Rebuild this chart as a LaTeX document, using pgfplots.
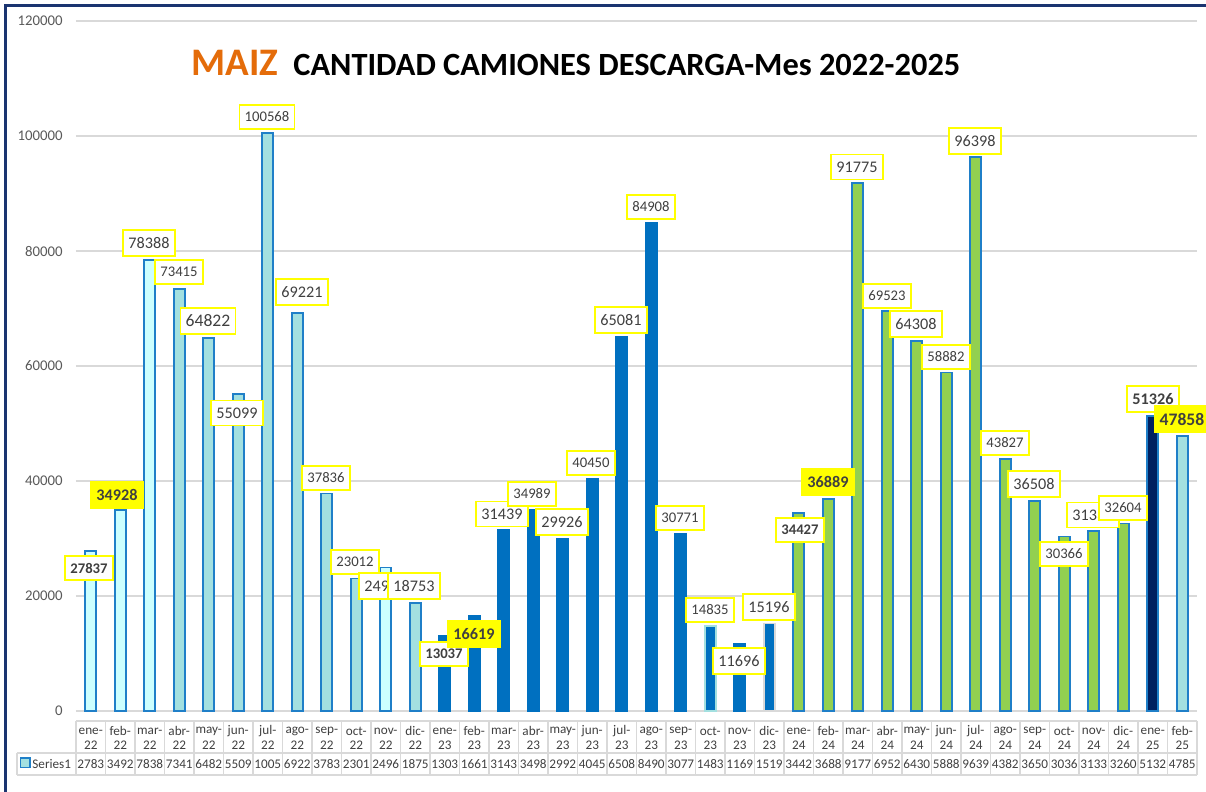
\documentclass[border=0pt]{standalone}
\usepackage{fontspec}
\setmainfont{Carlito}
\usepackage{pgfplots}
\pgfplotsset{compat=1.18}
\definecolor{cLC}{HTML}{CCFFFF}
\definecolor{cTeal}{HTML}{A3E0E0}
\definecolor{cBlue}{HTML}{0070C0}
\definecolor{cGreen}{HTML}{92D050}
\definecolor{cNavy}{HTML}{002060}
\definecolor{cOut}{HTML}{1F7FC8}
\definecolor{cFrame}{HTML}{1A3470}
\definecolor{cGrid}{HTML}{D9D9D9}
\definecolor{cTxt}{HTML}{404040}
\definecolor{cTick}{HTML}{595959}
\definecolor{cOrange}{HTML}{E46C0A}
\definecolor{cYel}{HTML}{FFFF00}
\begin{document}
\begin{tikzpicture}
\fill[white] (0pt,0pt) rectangle (603pt,-396pt);
\useasboundingbox (0pt,0pt) rectangle (603pt,-396pt);
\begin{axis}[
  at={(38pt,-355.5pt)}, anchor=south west,
  scale only axis, width=560.5pt, height=345pt,
  xmin=-0.5, xmax=37.5, ymin=0, ymax=120000,
  axis line style={draw=none},
  xtick=\empty,
  ytick={0,20000,40000,60000,80000,100000,120000},
  major tick length=0pt,
  ymajorgrids, grid style={draw=cGrid, line width=0.7pt},
  scaled y ticks=false,
  /pgf/number format/fixed,
  /pgf/number format/1000 sep={},
  /pgf/number format/assume math mode=true,
  y tick label style={font=\fontsize{7.4}{8}\selectfont, text=cTick, inner sep=0pt, xshift=-6.5pt, anchor=east},
  every axis plot/.append style={ybar, bar shift=0pt, bar width=5.5pt, line width=0.8pt},
]
\addplot[fill=cLC, draw=cOut] coordinates {(0,27837)(1,34928)(2,78388)(10,24960)};
\addplot[fill=cTeal, draw=cOut] coordinates {(3,73415)(4,64822)(5,55099)(6,100568)(7,69221)(8,37836)(9,23012)(11,18753)(37,47858)};
\addplot[fill=cBlue, draw=cBlue] coordinates {(12,13037)(13,16619)(14,31439)(15,34989)(16,29926)(17,40450)(18,65081)(19,84908)(20,30771)(22,11696)};
\addplot[fill=cBlue, draw=cTeal] coordinates {(21,14835)};
\addplot[fill=cBlue, draw=cGrid] coordinates {(23,15196)};
\addplot[fill=cGreen, draw=cOut] coordinates {(24,34427)(25,36889)(26,91775)(27,69523)(28,64308)(29,58882)(30,96398)(31,43827)(32,36508)(33,30366)(34,31335)(35,32604)};
\addplot[fill=cNavy, draw=cOut] coordinates {(36,51326)};
\end{axis}
\begin{scope}[x=0.5pt,y=-0.5pt,
  lb/.style={draw=cYel, line width=0.9pt, fill=white, text=cTxt, inner xsep=2.6pt, inner ysep=3.6pt, font=\fontsize{8.1}{9}\selectfont},
  sm/.style={font=\fontsize{7.35}{8}\selectfont},
  md/.style={font=\fontsize{8.1}{9}\selectfont},
  lg/.style={font=\fontsize{8.8}{10}\selectfont},
  smb/.style={font=\fontsize{7.35}{8}\selectfont\bfseries},
  mdb/.style={font=\fontsize{8.1}{9}\selectfont\bfseries},
  lgb/.style={font=\fontsize{8.8}{10}\selectfont\bfseries},
  yf/.style={fill=cYel}]
% frame
\draw[cFrame, line width=1.5pt] (5.5,800) -- (5.5,5.5) -- (1215,5.5);
% title
\node[anchor=base west, inner sep=0pt, text=cOrange, font=\fontsize{19.5}{22}\selectfont\bfseries] at (191,76) {MAIZ};
\node[anchor=base west, inner sep=0pt, text=black, font=\fontsize{16.2}{19}\selectfont\bfseries] at (293,76) {CANTIDAD CAMIONES DESCARGA-Mes 2022-2025};
% data labels
\newcommand\Lb[4]{\node[lb,#4] at (#1,#2) {#3};}
\Lb{89}{568}{27837}{smb}
\Lb{117}{495}{34928}{mdb,yf}
\Lb{149}{243}{78388}{md}
\Lb{179}{272}{73415}{sm}
\Lb{208}{321}{64822}{lg}
\Lb{237}{413}{55099}{md}
\Lb{267}{117}{100568}{sm}
\Lb{302}{292}{69221}{md}
\Lb{326}{478}{37836}{sm}
\Lb{355}{562}{23012}{sm}
\Lb{385}{586}{24960}{md}
\Lb{414}{586}{18753}{md}
\Lb{444}{654}{13037}{smb}
\Lb{474}{634}{16619}{mdb,yf}
\Lb{502}{514}{31439}{md}
\Lb{532}{494}{34989}{sm}
\Lb{562}{522}{29926}{md}
\Lb{591}{463}{40450}{sm}
\Lb{621}{320}{65081}{md}
\Lb{651}{207}{84908}{sm}
\Lb{680}{518}{30771}{sm}
\Lb{710}{610}{14835}{sm}
\Lb{739}{661}{11696}{md}
\Lb{769}{607}{15196}{md}
\Lb{800}{530}{34427}{smb}
\Lb{828}{482}{36889}{mdb,yf}
\Lb{857}{167}{91775}{md}
\Lb{887}{296}{69523}{sm}
\Lb{916}{324}{64308}{md}
\Lb{946}{357}{58882}{sm}
\Lb{975}{141}{96398}{md}
\Lb{1005}{443}{43827}{sm}
\Lb{1034}{484}{36508}{md}
\Lb{1064}{554}{30366}{sm}
\Lb{1093}{515}{31335}{md}
\Lb{1123}{508}{32604}{sm}
\Lb{1153}{399}{51326}{mdb}
\Lb{1182}{419}{47858}{lgb,yf}
% data table
\foreach \i in {0,...,38} { \draw[cGrid, line width=0.6pt] ({76+\i*29.5},721) -- ({76+\i*29.5},775); }
\draw[cGrid, line width=0.6pt] (76,721) -- (1197,721);
\draw[cGrid, line width=0.6pt] (17,753) -- (1197,753);
\draw[cGrid, line width=0.6pt] (17,775) -- (1197,775);
\draw[cGrid, line width=0.6pt] (17,753) -- (17,775);
\foreach \m/\yr [count=\i from 0] in {ene/22,feb/22,mar/22,abr/22,may/22,jun/22,jul/22,ago/22,sep/22,oct/22,nov/22,dic/22,ene/23,feb/23,mar/23,abr/23,may/23,jun/23,jul/23,ago/23,sep/23,oct/23,nov/23,dic/23,ene/24,feb/24,mar/24,abr/24,may/24,jun/24,jul/24,ago/24,sep/24,oct/24,nov/24,dic/24,ene/25,feb/25} {
  \node[text=cTxt, inner sep=0pt, font=\fontsize{6.6}{7.5}\selectfont] at ({90.75+\i*29.5},731) {\m-};
  \node[text=cTxt, inner sep=0pt, font=\fontsize{6.6}{7.5}\selectfont] at ({90.75+\i*29.5},745) {\yr};
}
\foreach \v [count=\i from 0] in {2783,3492,7838,7341,6482,5509,1005,6922,3783,2301,2496,1875,1303,1661,3143,3498,2992,4045,6508,8490,3077,1483,1169,1519,3442,3688,9177,6952,6430,5888,9639,4382,3650,3036,3133,3260,5132,4785} {
  \node[text=cTxt, inner sep=0pt, font=\fontsize{6.6}{7.5}\selectfont] at ({90.75+\i*29.5},764) {\v};
}
\draw[cOut, fill=cTeal, line width=0.6pt] (20.5,758) rectangle (30,767.5);
\node[anchor=west, text=cTxt, inner sep=0pt, font=\fontsize{6.6}{7.5}\selectfont] at (32,764) {Series1};
\end{scope}
\end{tikzpicture}
\end{document}
